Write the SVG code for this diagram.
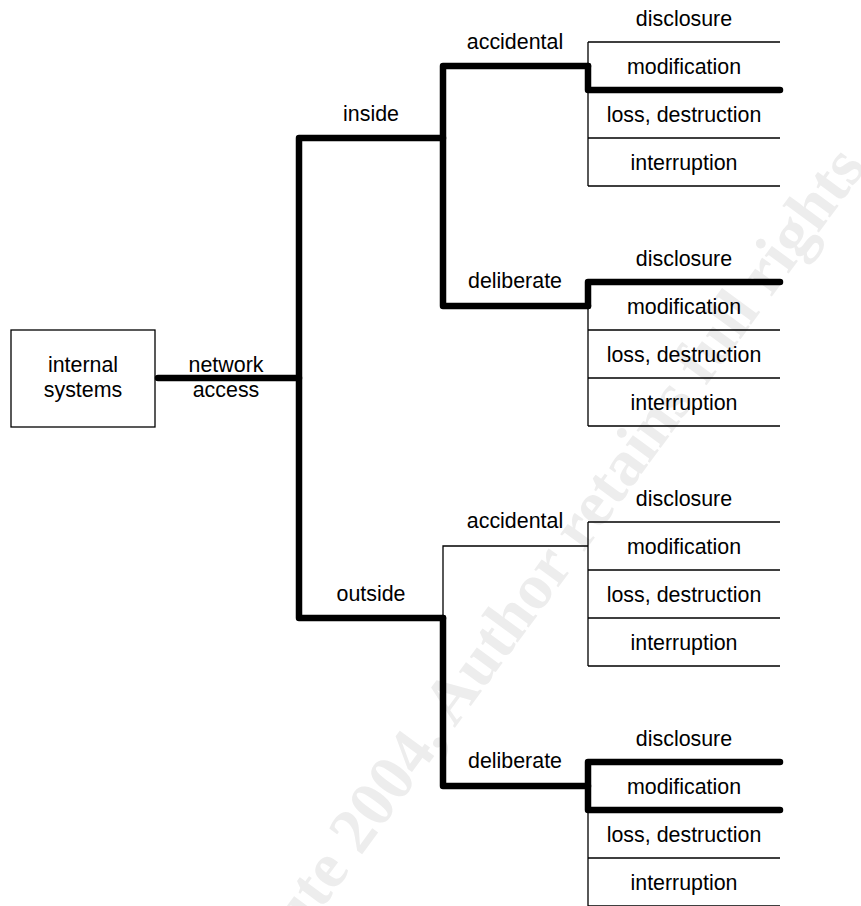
<svg xmlns="http://www.w3.org/2000/svg" width="861" height="906" viewBox="0 0 861 906">
  <style>
    .lbl { font-family: "Liberation Sans", Arial, sans-serif; font-size: 21.4px; fill: #000; text-anchor: middle; }
    .thin { stroke: #000; stroke-width: 1.3; fill: none; }
    .thick { stroke: #000; stroke-width: 6.5; fill: none; stroke-linecap: round; stroke-linejoin: round; }
    .mark { font-family: "Liberation Serif", "Times New Roman", serif; font-weight: bold; font-size: 65px; fill: #ededed; text-anchor: middle; }
  </style>
  <defs>
    <!-- one outcome table: four rows, 48px high, open on the right -->
    <g id="outcomes">
      <path class="thin" d="M0,0 V144 M0,0 H192 M0,48 H192 M0,96 H192 M0,144 H192"/>
      <text class="lbl" x="96" y="-16.5">disclosure</text>
      <text class="lbl" x="96" y="31.5">modification</text>
      <text class="lbl" x="96" y="79.5">loss, destruction</text>
      <text class="lbl" x="96" y="127.5">interruption</text>
    </g>
  </defs>
  <rect width="861" height="906" fill="#fff"/>

  <!-- copyright watermark -->
  <text class="mark" transform="translate(471,706) rotate(-53.7)">© SANS Institute 2004, Author retains full rights.</text>

  <g id="internal-systems">
    <rect class="thin" x="11" y="330" width="144" height="97" fill="#fff"/>
    <text class="lbl" x="83" y="372">internal</text>
    <text class="lbl" x="83" y="397">systems</text>
  </g>

  <g id="outcomes-inside-accidental">
    <use href="#outcomes" x="588" y="42"/>
  </g>
  <g id="outcomes-inside-deliberate">
    <use href="#outcomes" x="588" y="282"/>
  </g>
  <g id="outcomes-outside-accidental">
    <use href="#outcomes" x="588" y="522"/>
  </g>
  <g id="outcomes-outside-deliberate">
    <use href="#outcomes" x="588" y="762"/>
  </g>

  <g id="connectors">
    <!-- network access to the inside / outside split -->
    <path class="thick" d="M158,378 H299"/>
    <path class="thick" d="M443,138 H299 V618 H443"/>
    <!-- inside branch -->
    <path class="thick" d="M588,66 H443 V306 H588"/>
    <path class="thick" d="M588,66 V90 H780"/>
    <path class="thick" d="M588,306 V282 H780"/>
    <!-- outside branch -->
    <path class="thin" d="M588,546 H443 V618"/>
    <path class="thick" d="M443,618 V786 H588"/>
    <path class="thick" d="M780,762 H588 V810 H780"/>
  </g>

  <g id="branch-labels">
    <text class="lbl" x="226" y="372">network</text>
    <text class="lbl" x="226" y="397">access</text>
    <text class="lbl" x="371" y="121">inside</text>
    <text class="lbl" x="371" y="601">outside</text>
    <text class="lbl" x="515" y="49">accidental</text>
    <text class="lbl" x="515" y="288">deliberate</text>
    <text class="lbl" x="515" y="528">accidental</text>
    <text class="lbl" x="515" y="768">deliberate</text>
  </g>
</svg>
